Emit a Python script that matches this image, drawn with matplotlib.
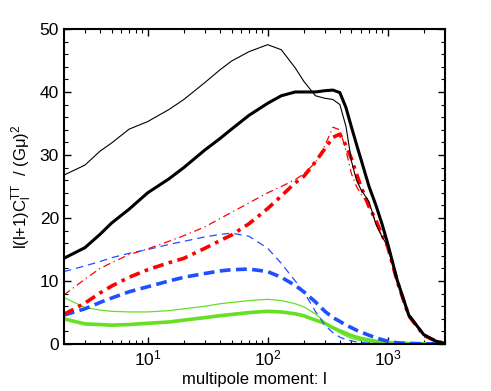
import matplotlib
matplotlib.use("Agg")
import matplotlib.pyplot as plt
from matplotlib.ticker import MultipleLocator, LogLocator

plt.rcParams['font.family'] = ['Liberation Sans', 'DejaVu Sans']
plt.rcParams['mathtext.default'] = 'regular'

# multipole grid
ell = [2, 3, 4, 5, 7, 10, 15, 20, 30, 40, 50, 70, 100, 130, 170, 200, 250, 300,
       350, 400, 450, 500, 550, 600, 700, 800, 900, 1000, 1200, 1500, 2000, 2500, 3000]

black_thin = [26.8, 28.4, 30.6, 31.9, 34.1, 35.3, 37.2, 38.8, 41.5, 43.5, 44.9, 46.4, 47.5,
              46.7, 43.8, 41.7, 39.4, 39.0, 38.8, 38.0, 34.5, 29.0, 26.0, 24.5, 22.6, 19.0,
              17.0, 15.6, 10.0, 4.5, 1.4, 0.5, 0.1]
black_thick = [13.6, 15.3, 17.4, 19.2, 21.4, 24.0, 26.2, 28.0, 30.8, 32.6, 34.1, 36.3, 38.2,
               39.4, 40.0, 40.0, 40.0, 40.2, 40.3, 39.9, 37.5, 34.4, 31.7, 29.3, 25.0, 22.0,
               19.0, 16.0, 10.2, 4.6, 1.5, 0.5, 0.1]
red_thin = [7.8, 10.3, 12.0, 12.9, 14.2, 15.1, 16.3, 17.2, 18.6, 19.9, 20.9, 22.4, 24.0,
            25.0, 26.1, 27.0, 28.8, 31.5, 34.4, 34.0, 30.7, 27.0, 25.0, 23.8, 22.0, 19.3,
            17.0, 15.5, 10.0, 4.5, 1.4, 0.5, 0.1]
red_thick = [4.7, 6.5, 8.1, 9.2, 10.6, 11.8, 12.9, 13.6, 15.2, 16.4, 17.3, 19.1, 21.5,
             23.5, 25.6, 26.6, 28.9, 31.0, 32.8, 33.3, 31.5, 29.4, 27.0, 25.0, 21.8, 19.6,
             17.3, 15.5, 10.0, 4.5, 1.4, 0.5, 0.1]
blue_thin = [11.5, 12.4, 13.1, 13.7, 14.4, 15.0, 15.8, 16.3, 17.0, 17.4, 17.6, 17.1, 15.2,
             12.8, 10.0, 8.3, 5.2, 3.0, 1.8, 1.1, 0.7, 0.5, 0.35, 0.25, 0.15, 0.1,
             0.08, 0.06, 0.04, 0.03, 0.02, 0.01, 0.0]
blue_thick = [4.6, 5.6, 6.6, 7.3, 8.3, 9.1, 10.0, 10.6, 11.2, 11.6, 11.8, 11.9, 11.5,
              10.6, 9.3, 8.3, 6.7, 5.2, 4.2, 3.6, 3.0, 2.6, 2.2, 1.9, 1.4, 1.0,
              0.7, 0.45, 0.2, 0.1, 0.05, 0.02, 0.0]
green_thin = [7.4, 5.8, 5.4, 5.2, 5.1, 5.1, 5.3, 5.6, 6.0, 6.4, 6.6, 6.9, 7.1,
              6.9, 6.4, 5.9, 4.8, 3.5, 2.5, 1.8, 1.3, 0.9, 0.7, 0.55, 0.35, 0.25,
              0.2, 0.15, 0.1, 0.05, 0.02, 0.01, 0.0]
green_thick = [4.0, 3.2, 3.1, 3.0, 3.1, 3.3, 3.5, 3.8, 4.2, 4.5, 4.7, 5.0, 5.2,
               5.1, 4.8, 4.5, 3.8, 3.3, 2.6, 2.1, 1.7, 1.35, 1.1, 0.9, 0.65, 0.45,
               0.35, 0.25, 0.15, 0.08, 0.04, 0.02, 0.01]

green = '#66e022'
blue = '#1f4fff'

fig = plt.figure(figsize=(4.91, 3.91), dpi=100)
ax = fig.add_axes([0.130, 0.120, 0.776, 0.806])

ax.plot(ell, green_thin, color=green, lw=0.9)
ax.plot(ell, green_thick, color=green, lw=2.6)
ax.plot(ell, blue_thin, color=blue, lw=0.9, ls=(0, (6, 4)))
ax.plot(ell, blue_thick, color=blue, lw=2.6, ls=(0, (3, 1.5)))
ax.plot(ell, red_thin, color='red', lw=0.9, ls=(0, (6, 3, 1, 3)))
ax.plot(ell, red_thick, color='red', lw=2.6, ls=(0, (3, 1.5, 1, 1.5)))
ax.plot(ell, black_thin, color='black', lw=0.8)
ax.plot(ell, black_thick, color='black', lw=2.2)

ax.set_xscale('log')
ax.set_xlim(2, 3000)
ax.set_ylim(0, 50)
ax.yaxis.set_major_locator(MultipleLocator(10))
ax.yaxis.set_minor_locator(MultipleLocator(2))
ax.xaxis.set_major_locator(LogLocator(base=10))
ax.xaxis.set_minor_locator(LogLocator(base=10, subs=range(2, 10)))

ax.tick_params(which='both', direction='in', top=True, right=True, labelsize=12.5)
ax.tick_params(which='major', length=5, width=1)
ax.tick_params(which='minor', length=3, width=0.8)
for s in ax.spines.values():
    s.set_linewidth(1.5)

ax.set_xlabel('multipole moment: l', fontsize=12, labelpad=2)
ax.set_ylabel('l(l+1)C$_{l}^{TT}$  / (Gμ)$^{2}$', fontsize=12, labelpad=4)

fig.savefig('out.png', dpi=100)
